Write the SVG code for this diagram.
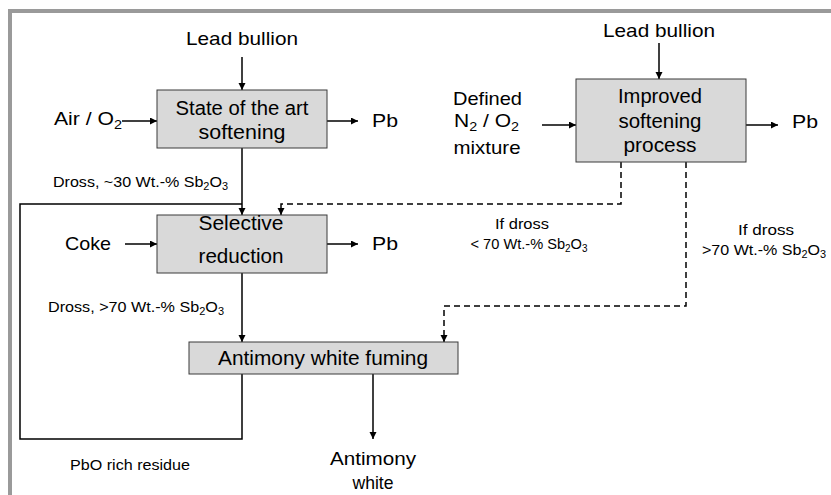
<svg xmlns="http://www.w3.org/2000/svg" width="831" height="495" viewBox="0 0 831 495">
<style>
text{font-family:"Liberation Sans",Arial,sans-serif;fill:#000}
.lab{font-size:18.5px}
.box{font-size:19.5px}
.sm{font-size:15.5px}
.mid{text-anchor:middle}
.proc{fill:#d9d9d9;stroke:#3a3a3a;stroke-width:1}
.ln{fill:none;stroke:#000;stroke-width:1.5}
.dash{fill:none;stroke:#000;stroke-width:1.5;stroke-dasharray:6 4}
.sub{font-size:0.68em}
</style>
<defs>
<marker id="ah" markerUnits="userSpaceOnUse" markerWidth="8" markerHeight="8" refX="7" refY="3.5" orient="auto">
<path d="M0,0 L7,3.5 L0,7 z" fill="#000"/>
</marker>
</defs>
<rect width="831" height="495" fill="#fff"/>
<path d="M10,495 V11 H831" fill="none" stroke="#9a9a9a" stroke-width="4"/>

<g id="connectors">
<line class="ln" x1="242" y1="57" x2="242" y2="90" marker-end="url(#ah)"/>
<line class="ln" x1="122" y1="121" x2="157" y2="121" marker-end="url(#ah)"/>
<line class="ln" x1="327" y1="121" x2="358" y2="121" marker-end="url(#ah)"/>
<line class="ln" x1="242" y1="148" x2="242" y2="215" marker-end="url(#ah)"/>
<path class="ln" d="M242,374 V439 H20 V204 H242"/>
<line class="ln" x1="125" y1="244" x2="157" y2="244" marker-end="url(#ah)"/>
<line class="ln" x1="327" y1="244" x2="358" y2="244" marker-end="url(#ah)"/>
<line class="ln" x1="242" y1="273" x2="242" y2="342" marker-end="url(#ah)"/>
<line class="ln" x1="373" y1="374" x2="373" y2="439" marker-end="url(#ah)"/>
<line class="ln" x1="659" y1="43" x2="659" y2="79" marker-end="url(#ah)"/>
<line class="ln" x1="542" y1="125" x2="576" y2="125" marker-end="url(#ah)"/>
<line class="ln" x1="746" y1="125" x2="778" y2="125" marker-end="url(#ah)"/>
<path class="dash" d="M621,162 V204 H281 V215" marker-end="url(#ah)"/>
<path class="dash" d="M686,162 V306 H444 V342" marker-end="url(#ah)"/>
</g>

<g id="softening">
<rect class="proc" x="157" y="90" width="170" height="58"/>
<text class="box mid" x="242" y="115" textLength="133" lengthAdjust="spacingAndGlyphs">State of the art</text>
<text class="box mid" x="242" y="139" textLength="87" lengthAdjust="spacingAndGlyphs">softening</text>
</g>

<g id="reduction">
<rect class="proc" x="157" y="215" width="170" height="58"/>
<text class="box mid" x="241" y="230" textLength="85" lengthAdjust="spacingAndGlyphs">Selective</text>
<text class="box mid" x="241" y="263" textLength="85" lengthAdjust="spacingAndGlyphs">reduction</text>
</g>

<g id="fuming">
<rect class="proc" x="189" y="342" width="269" height="32"/>
<text class="box mid" x="323" y="365" textLength="210" lengthAdjust="spacingAndGlyphs">Antimony white fuming</text>
</g>

<g id="improved">
<rect class="proc" x="576" y="79" width="170" height="83"/>
<text class="box mid" x="660" y="102.5" textLength="84" lengthAdjust="spacingAndGlyphs">Improved</text>
<text class="box mid" x="660" y="127.5" textLength="83" lengthAdjust="spacingAndGlyphs">softening</text>
<text class="box mid" x="660" y="151.5" textLength="73" lengthAdjust="spacingAndGlyphs">process</text>
</g>

<g id="labels">
<text class="lab mid" x="242" y="45" textLength="112" lengthAdjust="spacingAndGlyphs">Lead bullion</text>
<text class="lab" x="54" y="125" textLength="68" lengthAdjust="spacingAndGlyphs">Air / O<tspan class="sub" dy="4">2</tspan></text>
<text class="lab" x="372" y="127" textLength="26" lengthAdjust="spacingAndGlyphs">Pb</text>
<text class="sm" x="53" y="187" textLength="175" lengthAdjust="spacingAndGlyphs">Dross, ~30 Wt.-% Sb<tspan class="sub" dy="3">2</tspan><tspan dy="-3">O</tspan><tspan class="sub" dy="3">3</tspan></text>
<text class="lab" x="65" y="250" textLength="46" lengthAdjust="spacingAndGlyphs">Coke</text>
<text class="lab" x="372" y="250" textLength="26" lengthAdjust="spacingAndGlyphs">Pb</text>
<text class="sm" x="48" y="312" textLength="176" lengthAdjust="spacingAndGlyphs">Dross, &gt;70 Wt.-% Sb<tspan class="sub" dy="3">2</tspan><tspan dy="-3">O</tspan><tspan class="sub" dy="3">3</tspan></text>
<text class="sm" x="70" y="470" textLength="120" lengthAdjust="spacingAndGlyphs">PbO rich residue</text>
<text class="lab mid" x="373" y="465" textLength="86" lengthAdjust="spacingAndGlyphs">Antimony</text>
<text class="lab mid" x="373" y="489" textLength="41" lengthAdjust="spacingAndGlyphs">white</text>
<text class="lab mid" x="659" y="37" textLength="112" lengthAdjust="spacingAndGlyphs">Lead bullion</text>
<text class="lab mid" x="487.5" y="105" textLength="69" lengthAdjust="spacingAndGlyphs">Defined</text>
<text class="lab mid" x="486.5" y="127" textLength="65" lengthAdjust="spacingAndGlyphs">N<tspan class="sub" dy="4">2</tspan><tspan dy="-4"> / O</tspan><tspan class="sub" dy="4">2</tspan></text>
<text class="lab mid" x="487" y="154" textLength="67" lengthAdjust="spacingAndGlyphs">mixture</text>
<text class="lab" x="792" y="128" textLength="26" lengthAdjust="spacingAndGlyphs">Pb</text>
<text class="sm mid" x="522" y="229" textLength="54" lengthAdjust="spacingAndGlyphs">If dross</text>
<text class="sm mid" x="529" y="249" textLength="117" lengthAdjust="spacingAndGlyphs">&lt; 70 Wt.-% Sb<tspan class="sub" dy="3">2</tspan><tspan dy="-3">O</tspan><tspan class="sub" dy="3">3</tspan></text>
<text class="sm mid" x="766" y="235" textLength="56" lengthAdjust="spacingAndGlyphs">If dross</text>
<text class="sm mid" x="764" y="255" textLength="124" lengthAdjust="spacingAndGlyphs">&gt;70 Wt.-% Sb<tspan class="sub" dy="3">2</tspan><tspan dy="-3">O</tspan><tspan class="sub" dy="3">3</tspan></text>
</g>
</svg>
